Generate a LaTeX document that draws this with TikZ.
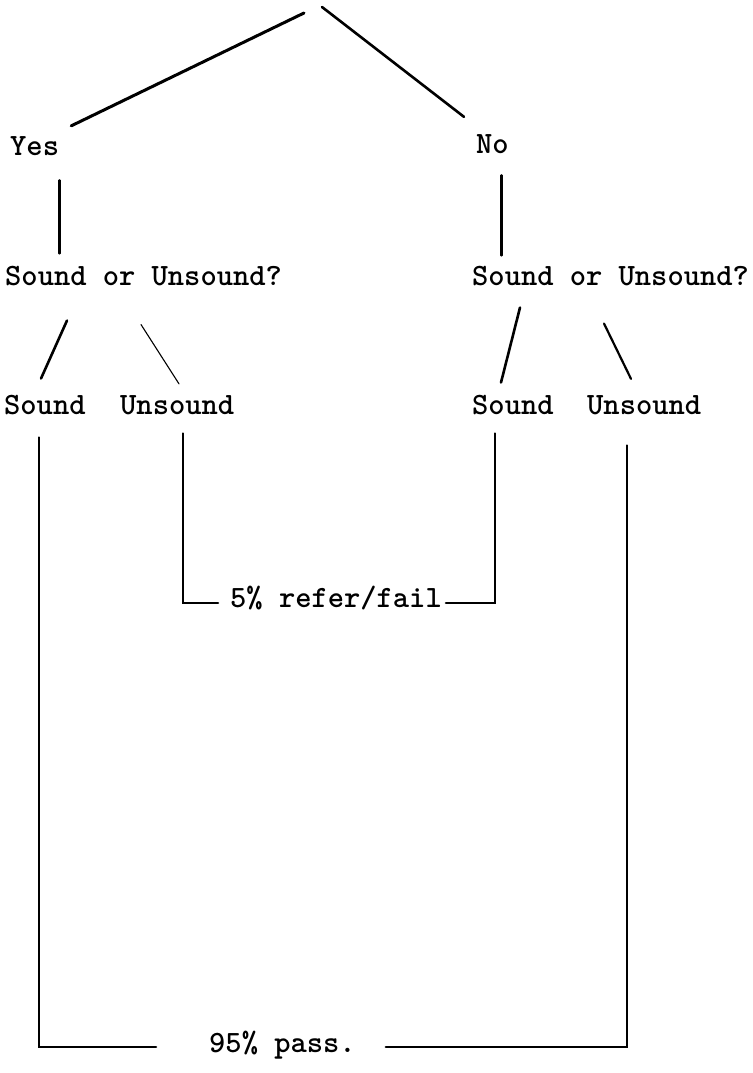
\documentclass[tikz,border=0pt]{standalone}
\usetikzlibrary{calc, positioning}
\tikzset{
  lbl/.style={anchor=base west, inner sep=0pt, font=\ttfamily\bfseries\fontsize{31}{31}\selectfont},
  trunk/.style={line width=2.6pt, line cap=round},
  twig/.style={line width=1.1pt, line cap=round},
}

\begin{document}
\begin{tikzpicture}[x=1pt, y=-1pt]
\useasboundingbox (0,0) rectangle (752,1073);

\coordinate (apex) at (313,10);

\node[lbl] at (10,155) (yes) {Yes};
\node[lbl] at (476,153) (no) {No};

\node[lbl] at (5,285) (sqL) {Sound or Unsound?};
\node[lbl] at (472,285) (sqR) {Sound or Unsound?};

\node[lbl] at (4,414) (sL) {Sound};
\node[lbl] at (120,414) (uL) {Unsound};
\node[lbl] at (472,414) (sR) {Sound};
\node[lbl] at (587,414) (uR) {Unsound};

\node[lbl] at (230,607) (fail) {5\% refer/fail};
\node[lbl] at (209,1052) (pass) {95\% pass.};

% first split
\draw[trunk, line width=3pt] ($(apex)+(-9,3)$) -- ($(yes.north east)+(12,-10)$);
\draw[trunk] ($(apex)+(9,-3)$) -- ($(no.north west)+(-12,-17)$);

\draw[trunk] ($(yes.south east)+(0,25)$) -- ++(0,73);
\draw[trunk] ($(no.south)+(9,22)$) -- ++(0,80);

% second split
\draw[trunk] ($(sqL.south west)+(62,35)$) -- ($(sL.north west)+(37,-16)$);
\draw[twig] ($(sqL.south west)+(136,39)$) -- ($(uL.north west)+(59,-11)$);
\draw[trunk] ($(sqR.south west)+(48,22)$) -- ($(sR.north west)+(29,-12)$);
\draw[trunk, line width=2.2pt] ($(sqR.south west)+(132,38)$) -- ($(uR.north west)+(44,-16)$);

% refer / fail
\draw[trunk] ($(uL.south west)+(63,19)$) |- ($(fail.base west)+(-12,-4)$);
\draw[trunk] ($(fail.base east)+(4,-4)$) -| ($(sR.south west)+(23,19)$);

% pass
\draw[trunk] ($(sL.south west)+(35,23)$) |- ($(pass.base west)+(-53,-5)$);
\draw[trunk] ($(pass.base east)+(30,-5)$) -| ($(uR.south west)+(40,31)$);

\end{tikzpicture}
\end{document}
